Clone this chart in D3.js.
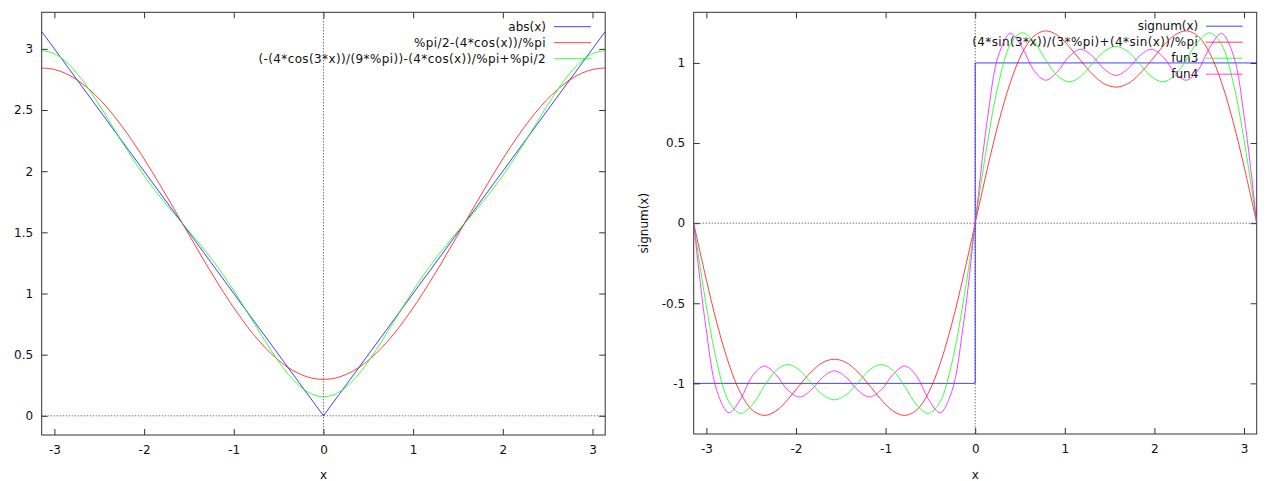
<!DOCTYPE html>
<html><head><meta charset="utf-8">
<script src="https://cdn.jsdelivr.net/npm/d3@7"></script>
<style>body{margin:0;background:#fff}svg{display:block}</style>
</head><body>
<svg id="chart" width="1267" height="481"></svg>
<script>
// ---- data ----
const xs = [-3.1416,-3.0107,-2.8798,-2.7489,-2.6180,-2.4871,-2.3562,-2.2253,-2.0944,-1.9635,-1.8326,-1.7017,-1.5708,-1.4399,-1.3090,-1.1781,-1.0472,-0.9163,-0.7854,-0.6545,-0.5236,-0.3927,-0.2618,-0.1309,0,0.1309,0.2618,0.3927,0.5236,0.6545,0.7854,0.9163,1.0472,1.1781,1.3090,1.4399,1.5708,1.7017,1.8326,1.9635,2.0944,2.2253,2.3562,2.4871,2.6180,2.7489,2.8798,3.0107,3.1416];

// left panel
const absX = [-3.1416, 0, 3.1416];
const absY = [3.1416, 0, 3.1416];
const cos1Vals = [2.844,2.833,2.801,2.747,2.673,2.581,2.471,2.346,2.207,2.058,1.900,1.737,1.571,1.405,1.241,1.084,0.934,0.796,0.670,0.561,0.468,0.394,0.341,0.308,0.298,0.308,0.341,0.394,0.468,0.561,0.670,0.796,0.934,1.084,1.241,1.405,1.571,1.737,1.900,2.058,2.207,2.346,2.471,2.581,2.673,2.747,2.801,2.833,2.844];
const cos3Vals = [2.986,2.964,2.901,2.801,2.673,2.527,2.371,2.215,2.066,1.927,1.800,1.683,1.571,1.459,1.341,1.214,1.076,0.926,0.771,0.615,0.468,0.340,0.241,0.178,0.156,0.178,0.241,0.340,0.468,0.615,0.771,0.926,1.076,1.214,1.341,1.459,1.571,1.683,1.800,1.927,2.066,2.215,2.371,2.527,2.673,2.801,2.901,2.964,2.986];

// right panel
const sgnX = [-3.1416, 0, 0, 3.1416];
const sgnY = [-1, -1, 1, 1];
const sin3Vals = [0,-0.329,-0.630,-0.879,-1.061,-1.167,-1.200,-1.173,-1.103,-1.014,-0.930,-0.870,-0.849,-0.870,-0.930,-1.014,-1.103,-1.173,-1.200,-1.167,-1.061,-0.879,-0.630,-0.329,0,0.329,0.630,0.879,1.061,1.167,1.200,1.173,1.103,1.014,0.930,0.870,0.849,0.870,0.930,1.014,1.103,1.173,1.200,1.167,1.061,0.879,0.630,0.329,0];
const fun3Vals = [0,-0.484,-0.876,-1.115,-1.188,-1.134,-1.020,-0.920,-0.882,-0.916,-0.996,-1.072,-1.103,-1.072,-0.996,-0.916,-0.882,-0.920,-1.020,-1.134,-1.188,-1.115,-0.876,-0.484,0,0.484,0.876,1.115,1.188,1.134,1.020,0.920,0.882,0.916,0.996,1.072,1.103,1.072,0.996,0.916,0.882,0.920,1.020,1.134,1.188,1.115,0.876,0.484,0];
const fun4Vals = [0,-0.628,-1.051,-1.184,-1.097,-0.954,-0.892,-0.944,-1.040,-1.085,-1.043,-0.962,-0.922,-0.962,-1.043,-1.085,-1.040,-0.944,-0.892,-0.954,-1.097,-1.184,-1.051,-0.628,0,0.628,1.051,1.184,1.097,0.954,0.892,0.944,1.040,1.085,1.043,0.962,0.922,0.962,1.043,1.085,1.040,0.944,0.892,0.954,1.097,1.184,1.051,0.628,0];

const xTicks = [-3,-2,-1,0,1,2,3];
const leftYTicks = [0,0.5,1,1.5,2,2.5,3];
const rightYTicks = [-1,-0.5,0,0.5,1];

const leftNames = ["abs(x)", "%pi/2-(4*cos(x))/%pi", "(-(4*cos(3*x))/(9*%pi))-(4*cos(x))/%pi+%pi/2"];
const rightNames = ["signum(x)", "(4*sin(3*x))/(3*%pi)+(4*sin(x))/%pi", "fun3", "fun4"];
const leftColors = ["#0000ff", "#ff0000", "#00ff00"];
const rightColors = ["#0000ff", "#ff0000", "#00ff00", "#ff00ff"];

// ---- drawing ----
const svg = d3.select("#chart");
const FONT = "DejaVu Sans, Verdana, sans-serif";
const BORDER = "#333";

function panel(opt) {
  const x = d3.scaleLinear().domain([-Math.PI, Math.PI]).range([opt.x0, opt.x1]);
  const y = d3.scaleLinear().domain(opt.ydom).range([opt.y1, opt.y0]);
  const g = svg.append("g");
  const id = "clip" + opt.key;
  svg.append("defs").append("clipPath").attr("id", id)
    .append("rect").attr("x", opt.x0).attr("y", opt.y0).attr("width", opt.x1 - opt.x0).attr("height", opt.y1 - opt.y0);

  // zero axes (dotted)
  g.append("line").attr("x1", x(0)).attr("x2", x(0)).attr("y1", opt.y0).attr("y2", opt.y1)
    .attr("stroke", "#333").attr("stroke-dasharray", "1,2").attr("stroke-width", 1);
  g.append("line").attr("x1", opt.x0).attr("x2", opt.x1).attr("y1", y(0)).attr("y2", y(0))
    .attr("stroke", "#333").attr("stroke-dasharray", "1,2").attr("stroke-width", 1);

  // axes (inward ticks)
  const styleAxis = sel => {
    sel.select(".domain").remove();
    sel.selectAll("line").attr("stroke", BORDER);
    sel.selectAll("text").attr("font-family", FONT).attr("font-size", 12).attr("fill", "#111");
  };
  g.append("g").attr("transform", `translate(0,${opt.y1})`)
    .call(d3.axisBottom(x).tickValues(xTicks).tickSize(-6).tickPadding(10.5).tickFormat(d => String(d))).call(styleAxis);
  g.append("g").attr("transform", `translate(0,${opt.y0})`)
    .call(d3.axisTop(x).tickValues(xTicks).tickSize(-6).tickFormat("")).call(styleAxis);
  g.append("g").attr("transform", `translate(${opt.x0},0)`)
    .call(d3.axisLeft(y).tickValues(opt.yTicks).tickSize(-6).tickPadding(8.5).tickFormat(d => String(d))).call(styleAxis);
  g.append("g").attr("transform", `translate(${opt.x1},0)`)
    .call(d3.axisRight(y).tickValues(opt.yTicks).tickSize(-6).tickFormat("")).call(styleAxis);

  // border
  g.append("rect").attr("x", opt.x0).attr("y", opt.y0).attr("width", opt.x1 - opt.x0).attr("height", opt.y1 - opt.y0)
    .attr("fill", "none").attr("stroke", BORDER).attr("stroke-width", 1);

  // axis labels
  g.append("text").attr("x", (opt.x0 + opt.x1) / 2).attr("y", 478.5).attr("text-anchor", "middle")
    .attr("font-family", FONT).attr("font-size", 12).attr("fill", "#111").text("x");
  if (opt.ylabel) {
    const cy = (opt.y0 + opt.y1) / 2;
    g.append("text").attr("transform", `translate(${opt.ylabelX},${cy}) rotate(-90)`).attr("text-anchor", "middle")
      .attr("dy", "0.35em").attr("font-family", FONT).attr("font-size", 12).attr("fill", "#111").text(opt.ylabel);
  }

  // series with legend
  opt.series.forEach((s, i) => {
    const line = d3.line().x(d => x(d[0])).y(d => y(d[1])).curve(s.linear ? d3.curveLinear : d3.curveCatmullRom.alpha(0.5));
    const pts = s.xv.map((v, j) => [v, s.yv[j]]);
    const ly = opt.legendY + i * 16;
    g.append("text").attr("x", opt.legendTextX).attr("y", ly).attr("dy", "0.35em").attr("text-anchor", "end")
      .attr("font-family", FONT).attr("font-size", 12).attr("fill", "#111")
      .attr("letter-spacing", s.name.length > 10 ? 0.38 : 0).text(s.name);
    g.append("line").attr("x1", opt.legendLine[0]).attr("x2", opt.legendLine[1]).attr("y1", ly).attr("y2", ly)
      .attr("stroke", s.color).attr("stroke-width", 1).attr("stroke-opacity", 0.75);
    g.append("path").attr("d", line(pts)).attr("fill", "none").attr("stroke", s.color).attr("stroke-width", 1)
      .attr("stroke-opacity", 0.75).attr("clip-path", `url(#${id})`);
  });
}

panel({
  key: "L", x0: 41.7, x1: 605.2, y0: 12.3, y1: 435, ydom: [-0.157, 3.299], yTicks: leftYTicks,
  legendY: 26.7, legendTextX: 546, legendLine: [554, 591],
  series: [
    {name: leftNames[0], color: leftColors[0], xv: absX, yv: absY, linear: true},
    {name: leftNames[1], color: leftColors[1], xv: xs, yv: cos1Vals},
    {name: leftNames[2], color: leftColors[2], xv: xs, yv: cos3Vals}
  ]
});
panel({
  key: "R", x0: 693.7, x1: 1256.7, y0: 12.3, y1: 434, ydom: [-1.316, 1.316], yTicks: rightYTicks,
  ylabel: "signum(x)", ylabelX: 643.7,
  legendY: 26.2, legendTextX: 1198.3, legendLine: [1206, 1242.7],
  series: [
    {name: rightNames[0], color: rightColors[0], xv: sgnX, yv: sgnY, linear: true},
    {name: rightNames[1], color: rightColors[1], xv: xs, yv: sin3Vals},
    {name: rightNames[2], color: rightColors[2], xv: xs, yv: fun3Vals},
    {name: rightNames[3], color: rightColors[3], xv: xs, yv: fun4Vals}
  ]
});
</script>
</body></html>
